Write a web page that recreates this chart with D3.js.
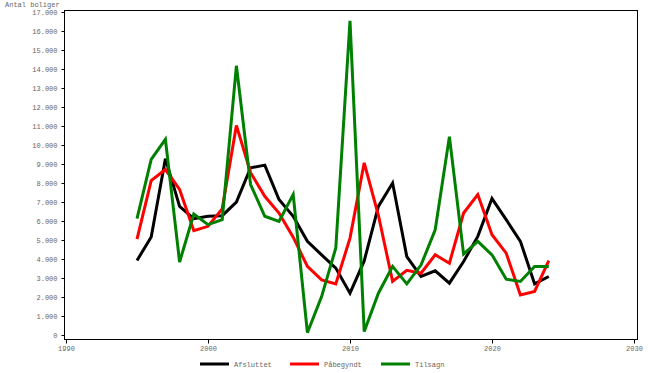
<!DOCTYPE html>
<html>
<head>
<meta charset="utf-8">
<script src="https://d3js.org/d3.v7.min.js"></script>
<style>
  body { margin: 0; background: #fff; }
  text { font-family: "Liberation Mono", "DejaVu Sans Mono", monospace; }
</style>
</head>
<body>
<svg width="648" height="373"></svg>
<script>
// data
var years = [1995,1996,1997,1998,1999,2000,2001,2002,2003,2004,2005,2006,2007,2008,2009,
             2010,2011,2012,2013,2014,2015,2016,2017,2018,2019,2020,2021,2022,2023,2024];
var afsluttet = [3920,5160,9280,6770,6120,6250,6280,6990,8800,8940,7130,6250,4930,4220,3520,
                 2200,3900,6770,8000,4130,3080,3380,2730,3870,5190,7180,6070,4930,2690,3080];
var paabegyndt = [5050,8130,8710,7660,5490,5720,6640,11030,8540,7300,6420,5150,3610,2900,2690,
                  5100,9060,6300,2820,3400,3250,4220,3780,6420,7390,5280,4310,2110,2290,3920];
var tilsagn = [6120,9240,10300,3840,6370,5810,6070,14170,7920,6250,5980,7390,120,2020,4580,
               16540,180,2200,3610,2690,3680,5540,10440,4260,4930,4220,2940,2820,3610,3610];
var seriesNames = ["Afsluttet", "Påbegyndt", "Tilsagn"];
var seriesData = [afsluttet, paabegyndt, tilsagn];
var colors = ["#000000", "#ff0000", "#008000"];
var yMajor = d3.range(0, 17001, 1000);
var yMinor = d3.range(0, 17001, 200);
var xMajor = [1990, 2000, 2010, 2020, 2030];
var xMinor = d3.range(1990, 2031, 1);

var svg = d3.select("svg");
var frameL = 64, frameR = 637, frameT = 10, frameB = 339;

var x = d3.scaleLinear().domain([1990, 2030]).range([66, 634]);
var y = d3.scaleLinear().domain([0, 17000]).range([335, 12]);

var loc = d3.formatLocale({decimal: ",", thousands: ".", grouping: [3], currency: ["", ""]});
var fmt = loc.format(",d");

// frame
svg.append("rect")
  .attr("x", frameL + 0.5).attr("y", frameT + 0.5)
  .attr("width", frameR - frameL).attr("height", frameB - frameT)
  .attr("fill", "none").attr("stroke", "#000").attr("stroke-width", 1);

// y axis
var gy = svg.append("g").attr("transform", "translate(" + (frameL + 0.5) + ",0)");
gy.call(d3.axisLeft(y).tickValues(yMinor).tickSize(2).tickFormat(""));
gy.call(d3.axisLeft(y).tickValues(yMajor).tickSize(3).tickPadding(4).tickFormat(fmt));
gy.selectAll(".domain").remove();
gy.selectAll("text").attr("font-size", 7).attr("fill", "#666")
  .style("font-family", "Liberation Mono, monospace");

// x axis
var gx = svg.append("g").attr("transform", "translate(0," + (frameB + 0.5) + ")");
gx.call(d3.axisBottom(x).tickValues(xMinor).tickSize(3).tickFormat(""));
gx.call(d3.axisBottom(x).tickValues(xMajor).tickSize(4).tickPadding(3).tickFormat(d3.format("d")));
gx.selectAll(".domain").remove();
gx.selectAll("text").attr("font-size", 7).attr("fill", "#666")
  .style("font-family", "Liberation Mono, monospace");

svg.append("text")
  .attr("x", 5).attr("y", 7)
  .attr("font-size", 7).attr("fill", "#666")
  .text("Antal boliger");

// lines
var line = d3.line()
  .x(function(d, i) { return x(years[i]); })
  .y(function(d) { return y(d); });

seriesData.forEach(function(s, i) {
  svg.append("path")
    .datum(s)
    .attr("d", line)
    .attr("fill", "none")
    .attr("stroke", colors[i])
    .attr("stroke-width", 3)
    .attr("stroke-linejoin", "miter");
});

// legend
var legX = [200, 290, 381];
seriesNames.forEach(function(n, i) {
  svg.append("line")
    .attr("x1", legX[i]).attr("x2", legX[i] + 29)
    .attr("y1", 364).attr("y2", 364)
    .attr("stroke", colors[i]).attr("stroke-width", 3);
  svg.append("text")
    .attr("x", legX[i] + 34).attr("y", 366.5)
    .attr("font-size", 7).attr("fill", "#666")
    .text(n);
});
</script>
</body>
</html>
